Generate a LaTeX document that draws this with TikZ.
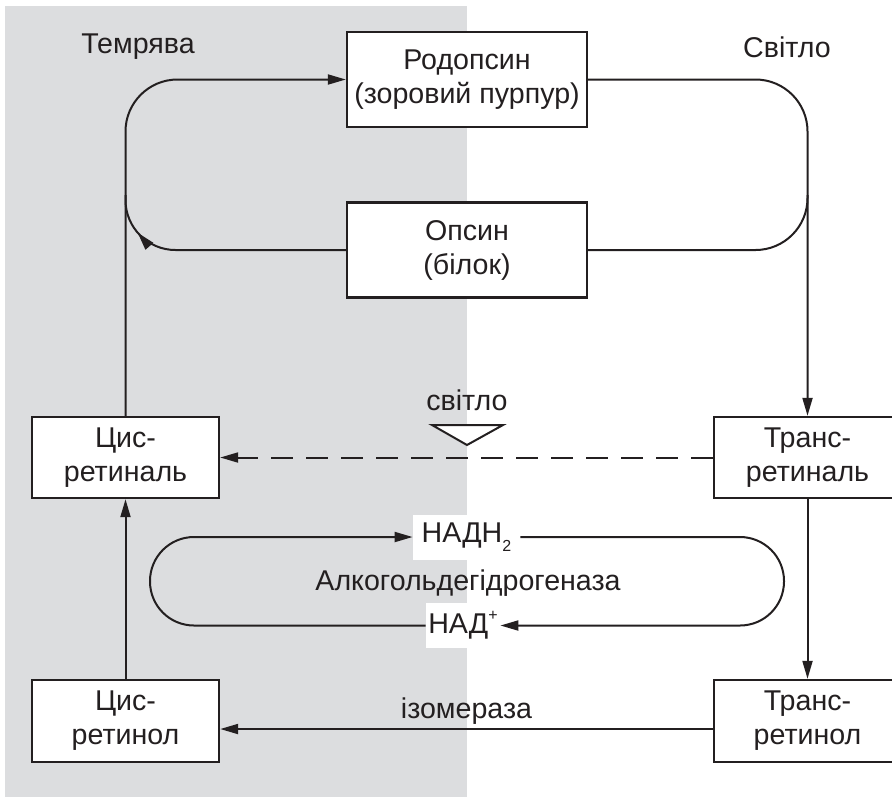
\documentclass[tikz,border=0pt]{standalone}
\usepackage{fontspec}
\setmainfont{Liberation Sans}
\usetikzlibrary{arrows.meta,decorations.markings}
\definecolor{dusk}{HTML}{DCDDDF}
\definecolor{ink}{HTML}{231F20}
\tikzset{box/.style={draw=ink,line width=1.2pt,fill=white,align=center,text=ink,minimum width=93.5pt,minimum height=40.5pt,inner sep=2pt,font=\fontsize{14.3}{17}\selectfont},arrow/.style={-{Triangle[length=9pt,width=5pt]},line width=1pt,draw=ink},lab/.style={font=\fontsize{14.3}{17}\selectfont,text=ink,inner sep=4pt}}

\begin{document}
\begin{tikzpicture}[x=0.5pt,y=-0.5pt,big/.style={box,minimum width=120pt,minimum height=47.5pt},tag/.style={lab,fill=white,inner sep=0pt,minimum height=22.5pt}]
\useasboundingbox (0,0) rectangle (892,799);
\fill[dusk] (5,6) rectangle (467,797);
\node[lab] (night) at (138,47) {Темрява};
\node[lab] (day) at (787,47) {Світло};
\node[big] (rho) at (467,79.5) {Родопсин\\(зоровий пурпур)};
\node[big] (ops) at (467,250) {Опсин\\(білок)};
\node[box] (cral) at (125.5,457.5) {Цис-\\ретиналь};
\node[box] (tral) at (807.5,457.5) {Транс-\\ретиналь};
\node[box,minimum height=41pt] (crol) at (125.5,721) {Цис-\\ретинол};
\node[box,minimum height=41pt] (trol) at (807.5,721) {Транс-\\ретинол};
\node[lab] (lum) at (467,400) {світло};
\node[lab] (adh) at (468,583) {Алкогольдегідрогеназа};
\node[tag,minimum width=53.5pt] (nadh) at (466.5,537) {НАДН\raisebox{-0.3em}{\fontsize{8}{8}\selectfont 2}};
\node[tag,minimum width=37pt] (nad) at (463,625.5) {НАД\raisebox{0.45em}{\fontsize{8}{8}\selectfont +}};
\draw[ink,line width=1pt,fill=white] (432,425) -- (503,425) -- (467,445) -- cycle;
\draw[arrow,rounded corners=26pt] (cral.north) |- (rho.west);
\draw[arrow,rounded corners=26pt] (rho.east) -| (tral.north);
\draw[ink,line width=1pt,rounded corners=26pt] (ops.east) -| (807.5,195);
\draw[ink,line width=1pt,rounded corners=25pt,postaction={decorate},decoration={markings,mark=at position 0.84 with {\arrow{Triangle[length=9pt,width=5pt]}}}] (ops.west) -| (125.5,195);
\foreach \a/\b in {crol.north/cral.south,tral.south/trol.north}{\draw[arrow](\a)--(\b);}
\draw[arrow,dash pattern=on 11pt off 6.5pt] (tral.west) -- (cral.east);
\draw[arrow] ([yshift=-4pt]trol.west) -- node[lab,above,inner sep=2pt] (iso) {ізомераза} ([yshift=-4pt]crol.east);
\draw[arrow,rounded corners=22pt] (nadh.east) -- (784,537) -- (784,625.5) -- (nad.east);
\draw[arrow,rounded corners=22pt] (nad.west) -- (150,625.5) -- (150,537) -- (nadh.west);
\end{tikzpicture}
\end{document}
